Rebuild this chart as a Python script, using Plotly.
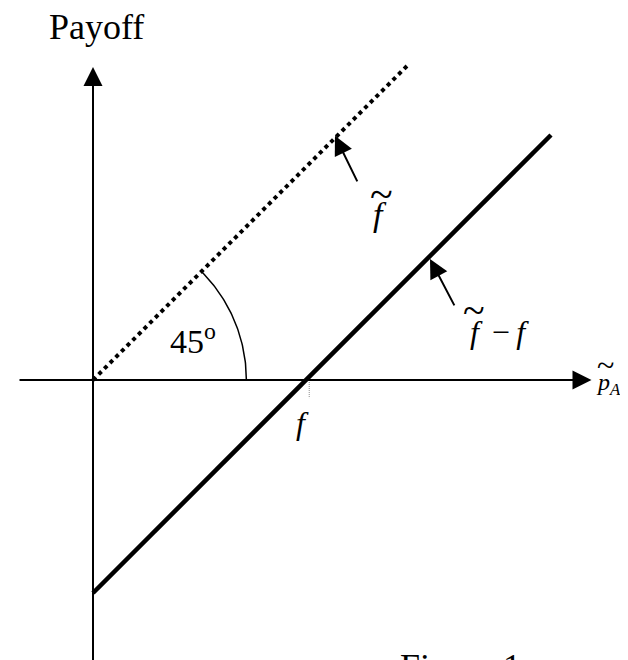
import numpy as np
import plotly.graph_objects as go

# ---- data (economic units, f = 1) ----
f_value = 1.0
dotted_p = [0.0, 1.48]            # payoff of f~ (45-degree line)
dotted_payoff = [0.0, 1.48]
solid_p = [0.0, 2.15]             # payoff of f~ - f
solid_payoff = [p - f_value for p in solid_p]
angle_deg = 45
arc_radius = 0.72

x_axis_extent = [-0.352, 2.34]
y_axis_extent = [-1.45, 1.469]

FONT = "Liberation Serif, Times New Roman, serif"

fig = go.Figure()

# 45-degree dotted line (f~)
fig.add_trace(go.Scatter(x=dotted_p, y=dotted_payoff, mode="lines",
                         line=dict(color="black", width=4, dash="4px,4px"),
                         hoverinfo="skip"))
# solid line (f~ - f)
fig.add_trace(go.Scatter(x=solid_p, y=solid_payoff, mode="lines",
                         line=dict(color="black", width=4.5),
                         hoverinfo="skip"))
# angle arc
th = np.linspace(0, np.deg2rad(angle_deg), 60)
fig.add_trace(go.Scatter(x=arc_radius * np.cos(th), y=arc_radius * np.sin(th), mode="lines",
                         line=dict(color="black", width=1.5), hoverinfo="skip"))
# dotted tick at f
fig.add_trace(go.Scatter(x=[f_value + 0.015, f_value + 0.015], y=[0, -0.085], mode="lines",
                         line=dict(color="#888888", width=1, dash="1px,1px"), hoverinfo="skip"))

ann = []
# axes with arrows
ann.append(dict(x=x_axis_extent[1], y=0, ax=x_axis_extent[0], ay=0, xref="x", yref="y",
                axref="x", ayref="y", text="", showarrow=True, arrowhead=2,
                arrowsize=1.9, arrowwidth=2, arrowcolor="black"))
ann.append(dict(x=0, y=y_axis_extent[1], ax=0, ay=y_axis_extent[0], xref="x", yref="y",
                axref="x", ayref="y", text="", showarrow=True, arrowhead=2,
                arrowsize=1.9, arrowwidth=2, arrowcolor="black"))
# pointer arrows
ann.append(dict(x=1.136, y=1.146, ax=1.244, ay=0.925, xref="x", yref="y",
                axref="x", ayref="y", text="", showarrow=True, arrowhead=2,
                arrowsize=1.9, arrowwidth=2, arrowcolor="black"))
ann.append(dict(x=1.582, y=0.568, ax=1.700, ay=0.343, xref="x", yref="y",
                axref="x", ayref="y", text="", showarrow=True, arrowhead=2,
                arrowsize=1.9, arrowwidth=2, arrowcolor="black"))

def label(x, y, text, size=30, xanchor="center"):
    return dict(x=x, y=y, xref="x", yref="y", text=text, showarrow=False,
                xanchor=xanchor,
                font=dict(family=FONT, size=size, color="black"))

ann.append(label(0.016, 1.657, "Payoff", 36))
ann.append(label(0.47, 0.19, "45<sup>o</sup>", 34))
ann.append(label(0.985, -0.20, "<i>f</i>", 32))
# f~ label
ann.append(label(1.345, 0.775, "<i>f</i>", 34))
ann.append(label(1.352, 0.875, "~", 42))
# f~ - f label
ann.append(label(1.91, 0.225, "<i>f</i>\u2009\u2009\u2212\u2009<i>f</i>", 32))
ann.append(label(1.788, 0.325, "~", 40))
# p~_A label
ann.append(label(2.352, -0.02, "<i>p</i><sub><i>A</i></sub>", 24, xanchor="left"))
ann.append(label(2.405, 0.07, "~", 32))

# caption (mostly below the visible page)
ann.append(dict(x=0.72, y=0, xref="paper", yref="paper", text="Figure 1",
                showarrow=False, xanchor="center", yanchor="middle", yshift=1,
                font=dict(family=FONT, size=36, color="black")))

fig.update_layout(
    width=628, height=660,
    margin=dict(l=0, r=0, t=0, b=0),
    paper_bgcolor="white", plot_bgcolor="white",
    showlegend=False,
    annotations=ann,
    xaxis=dict(range=[-0.399, 2.549], visible=False, fixedrange=True),
    yaxis=dict(range=[-1.352, 1.746], visible=False, fixedrange=True),
)

fig.write_html("out.html")
